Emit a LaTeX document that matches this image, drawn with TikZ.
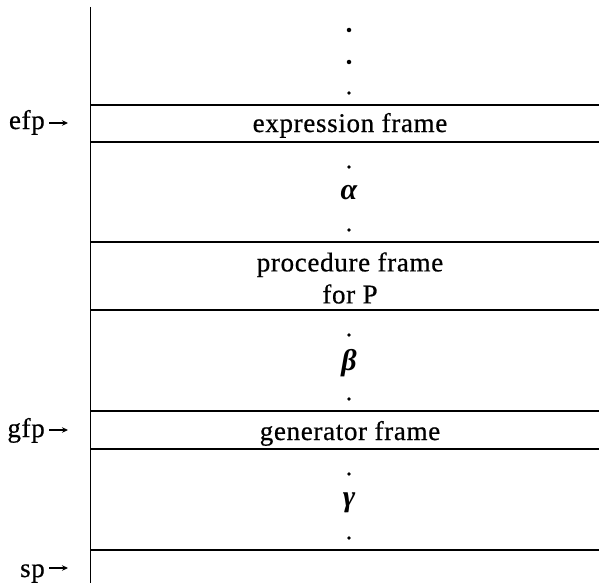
\documentclass[tikz,border=0pt]{standalone}
\usepackage{fontspec}
\setmainfont[LetterSpace=2.5,FakeBold=0.6]{Liberation Serif}
\newfontfamily\greekfont{Liberation Serif}
\usetikzlibrary{arrows.meta}
\tikzset{
  rule/.style={line width=1.8pt},
  lbl/.style={font=\fontsize{27}{32}\selectfont, inner sep=0pt},
  ptr/.style={line width=1.4pt, -{Stealth[length=6pt,width=5.5pt]}},
  vdot/.style={circle, fill=black, inner sep=0pt, minimum size=3.6pt},
  bigdot/.style={vdot, minimum size=4.5pt},
  greek/.style={font=\fontsize{30}{34}\selectfont\greekfont\bfseries\itshape, inner sep=0pt}
}
\begin{document}
\begin{tikzpicture}[x=1pt,y=-1pt]
\useasboundingbox (0,0) rectangle (599,583);
% stack
\draw[rule] (90.5,7) -- (90.5,583);
\foreach \y in {105,142,242,310,411,449,550}
  \draw[rule] (90.5,\y) -- (599,\y);
% top dots
\node[bigdot] (d1) at (349,30) {};
\node[bigdot] (d2) at (349,62) {};
\node[vdot] (d3) at (349,93) {};
% frames
\node[lbl, anchor=base] (ef) at (350,132) {expression frame};
\node[lbl, align=center, anchor=center] (pf) at (350,278) {procedure frame\\for P};
\node[lbl, anchor=base] (gf) at (350,440) {generator frame};
% alpha
\node[vdot] (a1) at (349,167) {};
\node[greek] (alpha) at (349,193) {α};
\node[vdot] (a2) at (349,230) {};
% beta
\node[vdot] (b1) at (349,335) {};
\node[greek] (beta) at (349,363) {β};
\node[vdot] (b2) at (349,399) {};
% gamma
\node[vdot] (g1) at (349,474) {};
\node[greek] (gamma) at (349,503) {γ};
\node[vdot] (g2) at (349,538) {};
% pointers
\node[lbl, anchor=base east] (efp) at (45,129) {efp};
\node[lbl, anchor=base east] (gfp) at (45,437) {gfp};
\node[lbl, anchor=base east] (sp) at (45,577) {sp};
\coordinate (efpend) at (68,123);
\coordinate (gfpend) at (68,430);
\coordinate (spend) at (68,568);
\draw[ptr] ([xshift=4pt]efp.east |- efpend) -- (efpend);
\draw[ptr] ([xshift=4pt]gfp.east |- gfpend) -- (gfpend);
\draw[ptr] ([xshift=4pt]sp.east |- spend) -- (spend);
\end{tikzpicture}
\end{document}
